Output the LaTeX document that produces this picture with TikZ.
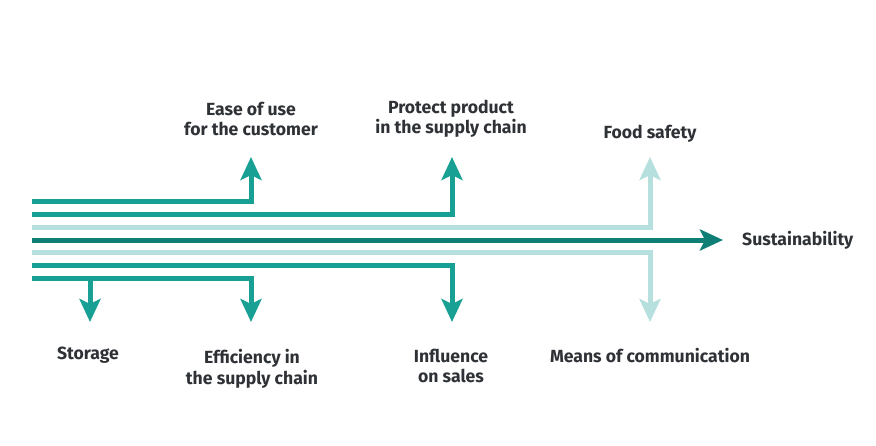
\documentclass[tikz,border=0pt]{standalone}
\usepackage{fontspec}
\setmainfont{Fira Sans}
\usetikzlibrary{arrows.meta,positioning}
\definecolor{flowmid}{HTML}{17A093}
\definecolor{flowdark}{HTML}{0F7F75}
\definecolor{flowlight}{HTML}{B5E0DD}
\definecolor{textgray}{HTML}{2E3135}

\begin{document}
\begin{tikzpicture}[x=1pt,y=-1pt,
	flow/.style={line width=5pt,flowmid},
	flowarrow/.style={flow,-{Stealth[length=23pt,width=21pt,inset=5pt]}},
	textlabel/.style={font=\bfseries\fontsize{17.6}{20.5}\selectfont,text=textgray,align=center,inner sep=0pt}]
	\useasboundingbox (0,0) rectangle (876,445);
	% starts of the seven strands
	\foreach \i/\y in {1/201.7,2/214.3,3/227.3,4/240,5/252.7,6/265.7,7/278.3}
		\coordinate (s\i) at (32,\y);
	\coordinate (up1) at (251,157);   \coordinate (down1) at (251,322);
	\coordinate (up2) at (452,157);   \coordinate (down2) at (452,322);
	\coordinate (up3) at (650,157);   \coordinate (down3) at (650,322);
	\coordinate (store) at (90,322);  \coordinate (sus) at (723,240);
	\coordinate (fork) at (90,278.3);

	\draw[flowarrow] (s1) -| (up1);
	\draw[flowarrow] (s2) -| (up2);
	\draw[flowarrow,flowlight] (s3) -| (up3);
	\draw[flowarrow,flowdark] (s4) -- (sus);
	\draw[flowarrow,flowlight] (s5) -| (down3);
	\draw[flowarrow] (s6) -| (down2);
	\draw[flowarrow] (s7) -| (down1);
	\draw[flowarrow] (fork) -- (store);

	\node[textlabel] (ease) at (251,119) {Ease of use\\for the customer};
	\node[textlabel] (protect) at (451,119) {Protect product\\in the supply chain};
	\node[textlabel] (food) at (650,134) {Food safety};
	\node[textlabel,anchor=west] (sustain) at (742,240.5) {Sustainability};
	\node[textlabel] (storage) at (88,355.5) {Storage};
	\node[textlabel] (efficiency) at (252,369) {Efficiency in\\the supply chain};
	\node[textlabel] (influence) at (451,366) {Influence\\on sales};
	\node[textlabel] (means) at (650,355.5) {Means of communication};
\end{tikzpicture}
\end{document}
